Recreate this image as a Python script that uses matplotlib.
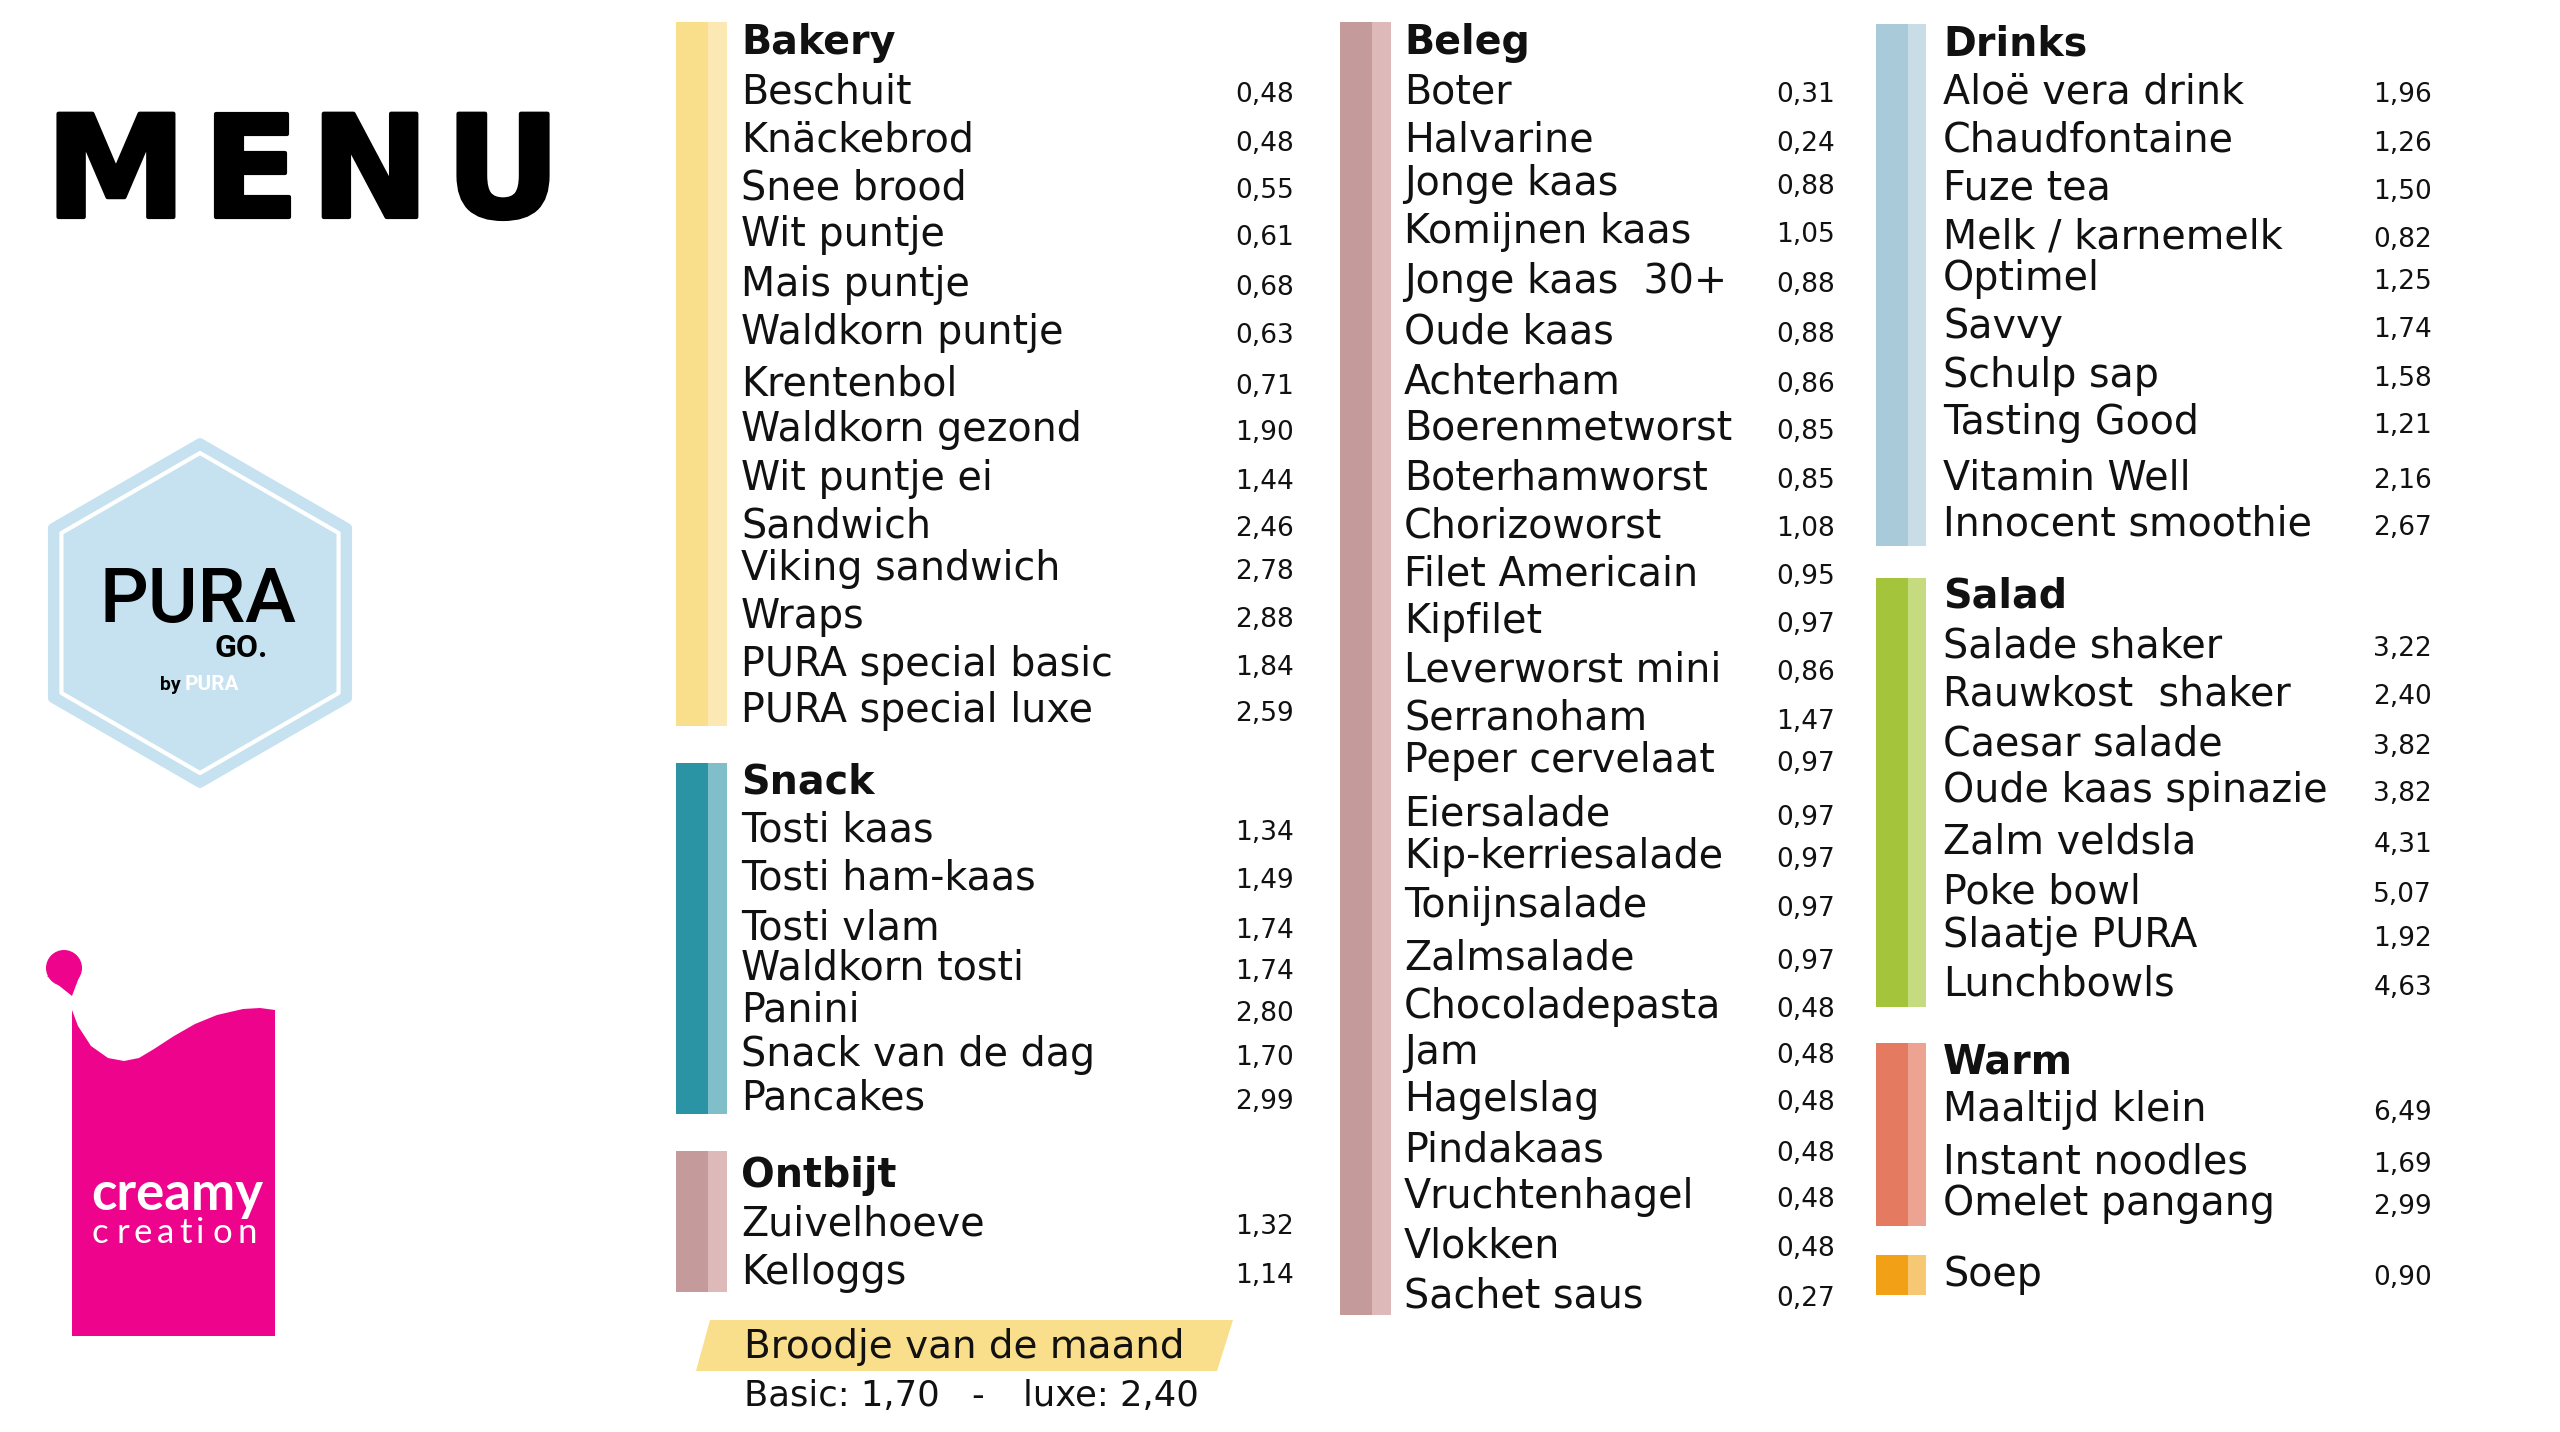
import matplotlib.pyplot as plt
import matplotlib.patheffects as pe
from matplotlib.patches import Rectangle, Polygon, RegularPolygon, Circle

# ---- menu data ----
bakery_items = ["Beschuit", "Knäckebrod", "Snee brood", "Wit puntje", "Mais puntje",
                "Waldkorn puntje", "Krentenbol", "Waldkorn gezond", "Wit puntje ei",
                "Sandwich", "Viking sandwich", "Wraps", "PURA special basic",
                "PURA special luxe"]
bakery_prices = [0.48, 0.48, 0.55, 0.61, 0.68, 0.63, 0.71, 1.90, 1.44, 2.46, 2.78,
                 2.88, 1.84, 2.59]

snack_items = ["Tosti kaas", "Tosti ham-kaas", "Tosti vlam", "Waldkorn tosti",
               "Panini", "Snack van de dag", "Pancakes"]
snack_prices = [1.34, 1.49, 1.74, 1.74, 2.80, 1.70, 2.99]

ontbijt_items = ["Zuivelhoeve", "Kelloggs"]
ontbijt_prices = [1.32, 1.14]

beleg_items = ["Boter", "Halvarine", "Jonge kaas", "Komijnen kaas", "Jonge kaas  30+",
               "Oude kaas", "Achterham", "Boerenmetworst", "Boterhamworst",
               "Chorizoworst", "Filet Americain", "Kipfilet", "Leverworst mini",
               "Serranoham", "Peper cervelaat", "Eiersalade", "Kip-kerriesalade",
               "Tonijnsalade", "Zalmsalade", "Chocoladepasta", "Jam", "Hagelslag",
               "Pindakaas", "Vruchtenhagel", "Vlokken", "Sachet saus"]
beleg_prices = [0.31, 0.24, 0.88, 1.05, 0.88, 0.88, 0.86, 0.85, 0.85, 1.08, 0.95,
                0.97, 0.86, 1.47, 0.97, 0.97, 0.97, 0.97, 0.97, 0.48, 0.48, 0.48,
                0.48, 0.48, 0.48, 0.27]

drinks_items = ["Aloë vera drink", "Chaudfontaine", "Fuze tea", "Melk / karnemelk",
                "Optimel", "Savvy", "Schulp sap", "Tasting Good", "Vitamin Well",
                "Innocent smoothie"]
drinks_prices = [1.96, 1.26, 1.50, 0.82, 1.25, 1.74, 1.58, 1.21, 2.16, 2.67]

salad_items = ["Salade shaker", "Rauwkost  shaker", "Caesar salade",
               "Oude kaas spinazie", "Zalm veldsla", "Poke bowl", "Slaatje PURA",
               "Lunchbowls"]
salad_prices = [3.22, 2.40, 3.82, 3.82, 4.31, 5.07, 1.92, 4.63]

warm_items = ["Maaltijd klein", "Instant noodles", "Omelet pangang"]
warm_prices = [6.49, 1.69, 2.99]

soep_items = ["Soep"]
soep_prices = [0.90]

maand_basic = 1.70
maand_luxe = 2.40

# ---- layout (pixels) ----
# bar left, bar split, bar right, text x, price right edge
columns = [(676, 708, 727, 741, 1294),
           (1340, 1372, 1391, 1404, 1835),
           (1876, 1908, 1926, 1943, 2432)]

sections = [
    # title, items, prices, column, bar top, bar bottom, title baseline, row baselines, colours
    ("Bakery", bakery_items, bakery_prices, 0, 22, 726, 54,
     [103, 152, 199, 246, 296, 344, 395, 441, 490, 537, 580, 628, 676, 722],
     ("#F9DE8C", "#FCE8B3")),
    ("Snack", snack_items, snack_prices, 0, 763, 1114, 794,
     [841, 889, 939, 980, 1022, 1066, 1110], ("#2A93A4", "#80BECA")),
    ("Ontbijt", ontbijt_items, ontbijt_prices, 0, 1151, 1292, 1187,
     [1235, 1284], ("#C49A9A", "#DDB9BA")),
    ("Beleg", beleg_items, beleg_prices, 1, 22, 1315, 54,
     [103, 152, 195, 243, 293, 343, 393, 440, 489, 537, 585, 633, 681, 730, 772,
      826, 868, 917, 970, 1018, 1064, 1111, 1162, 1208, 1257, 1307],
     ("#C49A9A", "#DDB9BA")),
    ("Drinks", drinks_items, drinks_prices, 2, 24, 546, 56,
     [103, 152, 200, 248, 290, 338, 387, 434, 489, 536], ("#A9CAD8", "#C8DDE6")),
    ("Salad", salad_items, salad_prices, 2, 578, 1007, 608,
     [657, 705, 755, 802, 853, 903, 947, 996], ("#A4C43C", "#C6DB80")),
    ("Warm", warm_items, warm_prices, 2, 1043, 1226, 1074,
     [1121, 1173, 1215], ("#E47A60", "#EDA392")),
    (None, soep_items, soep_prices, 2, 1255, 1295, None,
     [1286], ("#F2A116", "#F7C873")),
]

ITEM_SIZE = 28.5
PRICE_SIZE = 19
BAND_SIZE = 28
INK = "#111111"


def fmt(p):
    return f"{p:.2f}".replace(".", ",")


plt.rcParams['font.family'] = ['DejaVu Sans']

fig = plt.figure(figsize=(25.6, 14.32), dpi=100)
ax = fig.add_axes([0, 0, 1, 1])
ax.set_xlim(0, 2560)
ax.set_ylim(1432, 0)
ax.axis('off')

# ---- menu sections ----
for title, items, prices, col, top, bottom, title_y, rows, colors in sections:
    x0, xs, x1, tx, px = columns[col]
    ax.add_patch(Rectangle((x0, top), xs - x0, bottom - top, color=colors[0], lw=0))
    ax.add_patch(Rectangle((xs, top), x1 - xs, bottom - top, color=colors[1], lw=0))
    if title:
        ax.text(tx, title_y, title, fontsize=ITEM_SIZE, fontweight='bold',
                color=INK, va='baseline', ha='left')
    for name, price, y in zip(items, prices, rows):
        ax.text(tx, y, name, fontsize=ITEM_SIZE, color=INK, va='baseline', ha='left')
        ax.text(px, y - 1, fmt(price), fontsize=PRICE_SIZE, color=INK,
                va='baseline', ha='right')

# broodje van de maand band
ax.add_patch(Polygon([(696, 1371), (710, 1320), (1233, 1320), (1217, 1371)],
                     closed=True, color="#F9DE8C", lw=0))
ax.text(744, 1358, "Broodje van de maand", fontsize=BAND_SIZE, color=INK,
        va='baseline', ha='left')
ax.text(744, 1406, "Basic: " + fmt(maand_basic), fontsize=25.5, color=INK,
        va='baseline', ha='left')
ax.text(978, 1406, "-", fontsize=25.5, color=INK, va='baseline', ha='center')
ax.text(1023, 1406, "luxe: " + fmt(maand_luxe), fontsize=25.5, color=INK,
        va='baseline', ha='left')

# ---- MENU heading ----
for letter, cx in zip("MENU", [116, 251, 370, 503]):
    ax.text(cx, 217, letter, fontsize=102, fontweight='heavy', color="black",
            va='baseline', ha='center',
            path_effects=[pe.withStroke(linewidth=3, foreground="black")])

# ---- PURA GO logo ----
ax.add_patch(RegularPolygon((200, 613), numVertices=6, radius=170,
                            facecolor="#C6E1EF", edgecolor="#C6E1EF",
                            lw=7, joinstyle='round'))
ax.add_patch(RegularPolygon((200, 613), numVertices=6, radius=160,
                            facecolor="none", edgecolor="white",
                            lw=3, joinstyle='round'))
ax.text(198, 622, "PURA", fontsize=55, color="black", va='baseline', ha='center',
        family=['Roboto', 'DejaVu Sans'], fontweight='medium')
ax.text(241, 657, "GO.", fontsize=23, fontweight='bold', color="black",
        va='baseline', ha='center', family=['Roboto', 'DejaVu Sans'])
ax.text(181, 690, "by", fontsize=14, fontweight='bold', color="black",
        va='baseline', ha='right', family=['Roboto', 'DejaVu Sans'])
ax.text(185, 690, "PURA", fontsize=15, fontweight='bold', color="white",
        va='baseline', ha='left', family=['Roboto', 'DejaVu Sans'])

# ---- creamy creation logo ----
pink = "#EE038D"
wave = [(72, 1010), (78, 1026), (91, 1046), (108, 1058), (124, 1061), (139, 1058),
        (154, 1049), (174, 1036), (195, 1024), (217, 1015), (243, 1009), (260, 1008),
        (275, 1010), (275, 1336), (72, 1336)]
ax.add_patch(Polygon(wave, closed=True, color=pink, lw=0))
ax.add_patch(Circle((64, 968), 18, color=pink, lw=0))
ax.add_patch(Polygon([(47, 976), (81, 972), (72, 996)], closed=True, color=pink, lw=0))
ax.text(91, 1210, "creamy", fontsize=38, fontweight='bold', color="white",
        va='baseline', ha='left', family=['Lato', 'DejaVu Sans'])
for ch, cx in zip("creation", [100, 123, 143, 166, 186, 200, 222, 247]):
    ax.text(cx, 1243, ch, fontsize=25, color="white", va='baseline', ha='center',
            family=['Lato', 'DejaVu Sans'])

fig.savefig("out.png", dpi=100)
